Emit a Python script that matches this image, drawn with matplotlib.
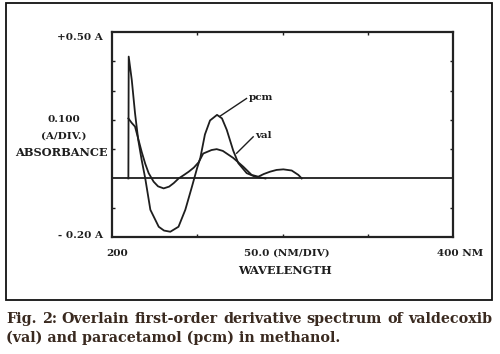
import matplotlib.pyplot as plt

# values (wavelength in nm, first derivative in A)
wl_pcm = [209.6, 209.8, 211.6, 213.5, 215.4, 217.4, 219.5, 222.5, 227.4, 230.5, 234.2,
          239.0, 243.0, 246.9, 249.9, 251.8, 254.5, 257.5, 261.6, 264.5, 267.3, 271.1,
          274.1, 279.0, 283.9, 290.0]
abs_pcm = [0.0, 0.416, 0.336, 0.223, 0.131, 0.063, 0.0, -0.107, -0.165, -0.178, -0.182,
           -0.165, -0.107, -0.028, 0.035, 0.07, 0.15, 0.198, 0.217, 0.205, 0.166, 0.095,
           0.052, 0.018, 0.006, 0.0]

wl_val = [209.6, 211.5, 213.5, 217.4, 219.5, 221.5, 224.4, 227.0, 230.3, 233.5, 236.2,
          239.1, 242.0, 245.0, 248.0, 250.8, 253.5, 258.4, 261.4, 265.0, 271.1, 277.0,
          281.9, 285.8, 289.0, 292.7, 296.5, 300.5, 305.4, 309.3, 311.3]
abs_val = [0.205, 0.19, 0.177, 0.091, 0.05, 0.018, -0.011, -0.027, -0.034, -0.028, -0.016,
           0.0, 0.011, 0.023, 0.037, 0.055, 0.085, 0.097, 0.100, 0.094, 0.07, 0.04,
           0.012, 0.006, 0.015, 0.023, 0.029, 0.031, 0.027, 0.012, 0.0]

x_ticks = [250, 300, 350]
y_ticks = [-0.1, 0.1, 0.2, 0.3, 0.4]

caption1 = 'Fig. 2: Overlain first-order derivative spectrum of valdecoxib'
caption2 = '(val) and paracetamol (pcm) in methanol.'

ink = '#1e1e1e'
tfont = dict(family='DejaVu Serif', weight='bold', size=7.5, color=ink)
bigfont = dict(family='DejaVu Serif', weight='bold', size=8.2, color=ink)

fig = plt.figure(figsize=(5, 3.54), dpi=100)
W, H = 500, 354

def fx(px):
    return px / W

def fy(py):
    return 1 - py / H

# outer frame
fig.patches.append(plt.Rectangle((fx(6), fy(300)), fx(492) - fx(6), fy(3) - fy(300),
                                 transform=fig.transFigure, fill=False, lw=1.3, ec='#111111'))

ax = fig.add_axes([fx(112), fy(237), fx(453) - fx(112), fy(32) - fy(237)])
ax.set_xlim(200, 400)
ax.set_ylim(-0.2, 0.5)

ax.axhline(0, color=ink, lw=1.3)
ax.plot(wl_pcm, abs_pcm, color=ink, lw=1.3)
ax.plot(wl_val, abs_val, color=ink, lw=1.3)

# leader lines and labels
ax.plot([263.2, 278.9], [0.212, 0.273], color=ink, lw=1.0)
ax.text(280.5, 0.275, 'pcm', ha='left', va='center', **tfont)
ax.plot([273.1, 282.8], [0.086, 0.142], color=ink, lw=1.0)
ax.text(284.0, 0.145, 'val', ha='left', va='center', **tfont)

ax.set_xticks(x_ticks)
ax.set_yticks(y_ticks)
ax.tick_params(direction='in', length=2.5, width=1, top=True, right=True,
               labelbottom=False, labelleft=False, color=ink)
for s in ax.spines.values():
    s.set_linewidth(1.6)
    s.set_color('#222222')

# axis annotations
fig.text(fx(103), fy(37), '+0.50 A', ha='right', va='center', **tfont)
fig.text(fx(103), fy(235), '- 0.20 A', ha='right', va='center', **tfont)
fig.text(fx(64), fy(119), '0.100', ha='center', va='center', **tfont)
fig.text(fx(64), fy(136), '(A/DIV.)', ha='center', va='center', **tfont)
fig.text(fx(61), fy(152), 'ABSORBANCE', ha='center', va='center', **bigfont)
fig.text(fx(117), fy(253), '200', ha='center', va='center', **tfont)
fig.text(fx(287), fy(253), '50.0 (NM/DIV)', ha='center', va='center', **tfont)
fig.text(fx(460), fy(253), '400 NM', ha='center', va='center', **tfont)
fig.text(fx(285), fy(271), 'WAVELENGTH', ha='center', va='center', **bigfont)

# caption, first line justified across the frame width
cap = dict(family='DejaVu Serif', weight='bold', size=10.3, color='#3a2a20')
renderer = fig.canvas.get_renderer()
words = caption1.split(' ')
arts = [fig.text(0, fy(319), w, ha='left', va='center', **cap) for w in words]
widths = [a.get_window_extent(renderer).width for a in arts]
gap = (486 - sum(widths)) / (len(words) - 1)
xpos = 6
for a, w in zip(arts, widths):
    a.set_x(fx(xpos))
    xpos += w + gap
fig.text(fx(6), fy(338), caption2, ha='left', va='center', **cap)

fig.savefig('out.png', dpi=100)
